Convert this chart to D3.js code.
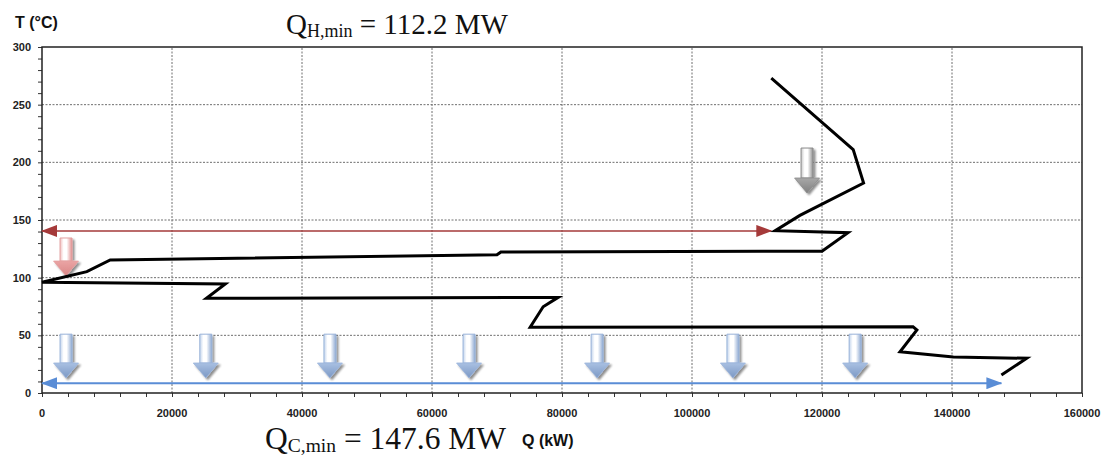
<!DOCTYPE html>
<html>
<head>
<meta charset="utf-8">
<script src="https://cdn.jsdelivr.net/npm/d3@7/dist/d3.min.js"></script>
<style>
  html, body { margin: 0; padding: 0; background: #fff; }
  svg { display: block; font-family: "Liberation Sans", Arial, sans-serif; }
</style>
</head>
<body>
<svg id="chart" width="1105" height="455"></svg>
<script>
// Grand composite curve: heat flow Q (kW) against shifted temperature T (°C)
const curveQ = [112200, 124800, 126400, 116600, 112800, 124000, 120000, 70600, 70000, 10500, 6900, 0,
                28200, 25300, 79400, 77100, 75100, 134000, 134600, 132000, 140200, 151500, 147600];
const curveT = [273, 211, 182, 154, 140.7, 139, 123, 122.3, 119.8, 115.3, 105.2, 96,
                94.5, 82.1, 82.9, 74.8, 57, 57.5, 54.6, 35.8, 31.2, 30.1, 15.6];

// Minimum utilities (kW) and the temperature levels where they are drawn
const hotUtility = 112200;
const hotUtilityT = 140.5;
const coldUtility = 147600;
const coldUtilityT = 8.5;

// Block arrows showing the direction of heat flow: [Q, T at top, T at tip]
const hotFlowArrows = [[117700, 212.4, 173.4]];
const pinchFlowArrows = [[3700, 134.4, 101.4]];
const coldFlowArrows = [[3700, 51, 13], [25200, 51, 13], [44300, 51, 13], [65700, 51, 13],
                        [85400, 51, 13], [106300, 51, 13], [125100, 51, 13]];

const xTicks = [0, 20000, 40000, 60000, 80000, 100000, 120000, 140000, 160000];
const yTicks = [0, 50, 100, 150, 200, 250, 300];

const svg = d3.select("#chart");
const x = d3.scaleLinear().domain([0, 160000]).range([42, 1082]);
const y = d3.scaleLinear().domain([0, 300]).range([393, 47]);

const defs = svg.append("defs");

// Gradients for the block arrows
function arrowGradients(id, edgeL, edgeR, headTop, headTip) {
  const g = defs.append("linearGradient").attr("id", id + "-body")
    .attr("x1", "0%").attr("x2", "100%").attr("y1", "0%").attr("y2", "0%");
  g.append("stop").attr("offset", "0%").attr("stop-color", edgeL);
  g.append("stop").attr("offset", "30%").attr("stop-color", "#ffffff");
  g.append("stop").attr("offset", "55%").attr("stop-color", "#ffffff");
  g.append("stop").attr("offset", "100%").attr("stop-color", edgeR);
  const h = defs.append("linearGradient").attr("id", id + "-head")
    .attr("x1", "0%").attr("x2", "0%").attr("y1", "0%").attr("y2", "100%");
  h.append("stop").attr("offset", "0%").attr("stop-color", headTop);
  h.append("stop").attr("offset", "100%").attr("stop-color", headTip);
}
arrowGradients("blue", "#c3d4ec", "#8ea9d2", "#a9c0e2", "#7b98c4");
arrowGradients("red", "#f0c0c0", "#e08e8e", "#eaa4a4", "#d98585");
arrowGradients("grey", "#c8c8c8", "#8e8e8e", "#a8a8a8", "#808080");

const shadow = defs.append("filter").attr("id", "shadow")
  .attr("x", "-50%").attr("y", "-50%").attr("width", "200%").attr("height", "200%");
shadow.append("feGaussianBlur").attr("in", "SourceAlpha").attr("stdDeviation", 1.2).attr("result", "b");
shadow.append("feOffset").attr("in", "b").attr("dx", 1.5).attr("dy", 2).attr("result", "o");
shadow.append("feComponentTransfer").attr("in", "o").attr("result", "s")
  .append("feFuncA").attr("type", "linear").attr("slope", 0.45);
const merge = shadow.append("feMerge");
merge.append("feMergeNode").attr("in", "s");
merge.append("feMergeNode").attr("in", "SourceGraphic");

// Arrowhead markers for the utility arrows
function marker(id, color) {
  const m = defs.append("marker").attr("id", id)
    .attr("viewBox", "0 0 16 12").attr("refX", 15).attr("refY", 6)
    .attr("markerWidth", 16).attr("markerHeight", 12)
    .attr("markerUnits", "userSpaceOnUse").attr("orient", "auto-start-reverse");
  m.append("path").attr("d", "M0,0 L16,6 L0,12 Z").attr("fill", color);
}
marker("head-red", "#a53a3a");
marker("head-blue", "#5a8dd6");

// Grid
const grid = svg.append("g");
grid.selectAll("line.gx").data(xTicks.slice(1, -1)).join("line")
  .attr("x1", d => x(d)).attr("x2", d => x(d))
  .attr("y1", y(0)).attr("y2", y(300))
  .attr("stroke", "#6e6e6e").attr("stroke-width", 1).attr("stroke-dasharray", "2,1.5");
grid.selectAll("line.gy").data(yTicks.slice(1, -1)).join("line")
  .attr("x1", x(0)).attr("x2", x(160000))
  .attr("y1", d => y(d)).attr("y2", d => y(d))
  .attr("stroke", "#6e6e6e").attr("stroke-width", 1).attr("stroke-dasharray", "2,1.5");

// Axes with minor ticks
const xAxis = d3.axisBottom(x).tickValues(d3.range(0, 160001, 4000)).tickSize(4).tickFormat("");
const yAxis = d3.axisLeft(y).tickValues(d3.range(0, 301, 10)).tickSize(4).tickFormat("");
svg.append("g").attr("transform", `translate(0,${y(0)})`).call(xAxis)
  .call(g => g.select(".domain").remove())
  .selectAll("line").attr("stroke", "#333");
svg.append("g").attr("transform", `translate(${x(0)},0)`).call(yAxis)
  .call(g => g.select(".domain").remove())
  .selectAll("line").attr("stroke", "#333");

// Tick labels
svg.append("g").selectAll("text").data(xTicks).join("text")
  .attr("x", d => x(d)).attr("y", 417)
  .attr("text-anchor", "middle").attr("font-size", 11).attr("font-weight", "bold")
  .attr("fill", "#222").text(d => d);
svg.append("g").selectAll("text").data(yTicks).join("text")
  .attr("x", 31).attr("y", d => y(d) + 4)
  .attr("text-anchor", "end").attr("font-size", 11).attr("font-weight", "bold")
  .attr("fill", "#222").text(d => d);

// Plot frame
svg.append("rect")
  .attr("x", x(0)).attr("y", y(300))
  .attr("width", x(160000) - x(0)).attr("height", y(0) - y(300))
  .attr("fill", "none").attr("stroke", "#222").attr("stroke-width", 1.5);

// Utility arrows
svg.append("line")
  .attr("x1", x(0)).attr("x2", x(hotUtility))
  .attr("y1", y(hotUtilityT)).attr("y2", y(hotUtilityT))
  .attr("stroke", "#a53a3a").attr("stroke-width", 1.5)
  .attr("marker-start", "url(#head-red)").attr("marker-end", "url(#head-red)");
svg.append("line")
  .attr("x1", x(0)).attr("x2", x(coldUtility))
  .attr("y1", y(coldUtilityT)).attr("y2", y(coldUtilityT))
  .attr("stroke", "#5a8dd6").attr("stroke-width", 2)
  .attr("marker-start", "url(#head-blue)").attr("marker-end", "url(#head-blue)");

// Block arrows
function blockArrows(data, id, strokeColor) {
  const g = svg.append("g");
  data.forEach(([q, tTop, tTip]) => {
    const cx = x(q), y0 = y(tTop), y1 = y(tTip);
    const sw = 6, hw = 12.5, hh = 15;
    const a = g.append("g").attr("filter", "url(#shadow)");
    a.append("path")
      .attr("d", `M${cx - sw},${y0} L${cx + sw},${y0} L${cx + sw},${y1 - hh} L${cx - sw},${y1 - hh} Z`)
      .attr("fill", `url(#${id}-body)`).attr("stroke", strokeColor).attr("stroke-width", 1);
    a.append("path")
      .attr("d", `M${cx - hw},${y1 - hh} L${cx + hw},${y1 - hh} L${cx},${y1} Z`)
      .attr("fill", `url(#${id}-head)`).attr("stroke", strokeColor).attr("stroke-width", 0.8);
  });
}
blockArrows(coldFlowArrows, "blue", "#9ab4da");
blockArrows(pinchFlowArrows, "red", "#e3a0a0");
blockArrows(hotFlowArrows, "grey", "#8a8a8a");

// Grand composite curve
const pts = curveQ.map((q, i) => [q, curveT[i]]);
svg.append("path")
  .datum(pts)
  .attr("d", d3.line().x(d => x(d[0])).y(d => y(d[1])))
  .attr("fill", "none").attr("stroke", "#000").attr("stroke-width", 3)
  .attr("stroke-linejoin", "miter");

// Axis titles
svg.append("text").attr("x", 15).attr("y", 28)
  .attr("font-size", 16).attr("font-weight", "bold").attr("fill", "#111").text("T (°C)");
svg.append("text").attr("x", 522).attr("y", 446)
  .attr("font-size", 16).attr("font-weight", "bold").attr("fill", "#111").text("Q (kW)");

// Utility annotations
function utilityLabel(px, py, size, sub, value) {
  const t = svg.append("text").attr("x", px).attr("y", py)
    .style("font-family", "'Liberation Serif', 'Times New Roman', serif")
    .attr("font-size", size).attr("fill", "#111");
  t.append("tspan").text("Q");
  t.append("tspan").attr("font-size", size * 0.62).attr("dy", 3).text(sub);
  t.append("tspan").attr("dy", -3).text(" = " + (value / 1000).toFixed(1) + " MW");
}
utilityLabel(286, 34, 29, "H,min", hotUtility);
utilityLabel(265, 449, 31.5, "C,min", coldUtility);
</script>
</body>
</html>
